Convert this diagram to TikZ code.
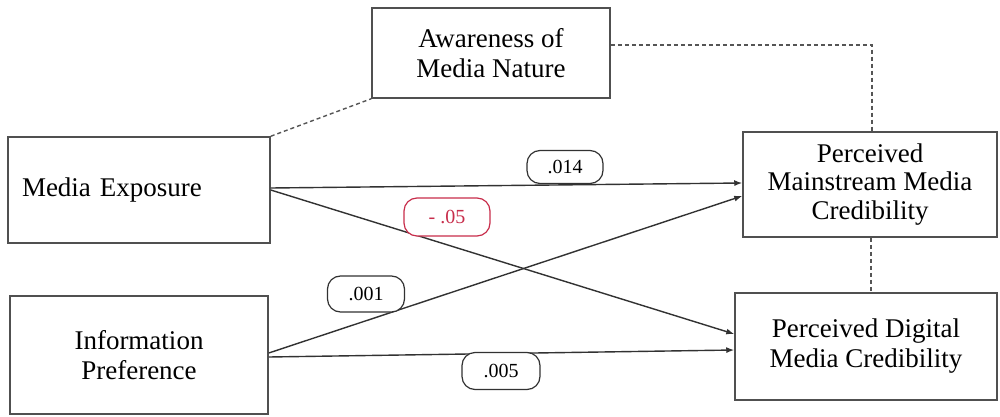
\documentclass[tikz,border=0pt]{standalone}
\usepackage{fontspec}
\setmainfont{Liberation Serif}
\usetikzlibrary{arrows.meta}
\definecolor{boxline}{RGB}{80,80,80}
\definecolor{arrline}{RGB}{50,50,50}
\definecolor{dashline}{RGB}{85,85,85}
\definecolor{redlab}{RGB}{200,45,75}
\tikzset{
  varbox/.style={draw=boxline, line width=1.5pt, rectangle, inner sep=0pt,
    font=\fontsize{27}{30}\selectfont, align=center},
  lab/.style={draw=arrline, line width=1.2pt, rounded corners=13pt, fill=white,
    inner sep=0pt, font=\fontsize{20}{22}\selectfont},
  pathar/.style={draw=arrline, line width=1.4pt, -{Latex[length=8pt,width=6pt]}},
  linkd/.style={draw=dashline, line width=1.4pt, dash pattern=on 4pt off 3pt}
}
\begin{document}
\begin{tikzpicture}[x=1pt,y=-1pt]
\useasboundingbox (0,0) rectangle (1000,417);
\fill[white] (0,0) rectangle (1000,417);

\node[varbox, minimum width=238pt, minimum height=90pt] (aw) at (491,53) {Awareness of\\Media Nature};
\node[varbox, text width=234pt, inner xsep=14pt, minimum height=106pt, align=left] (me) at (139,190) {\mbox{Media Exposure}};
\node[varbox, minimum width=258pt, minimum height=118pt] (ip) at (139,355) {Information\\Preference};
\node[varbox, minimum width=254pt, minimum height=105pt, font=\fontsize{27}{28.5}\selectfont] (mm) at (870,184.5) {Perceived\\Mainstream Media\\Credibility};
\node[varbox, minimum width=262pt, minimum height=107pt] (dm) at (866,346.5) {Perceived Digital\\Media Credibility};

% dashed links
\draw[linkd] (me.north east) -- (aw.south west);
\draw[linkd] ([yshift=8pt]aw.east) -| ([xshift=2pt]mm.north);
\draw[linkd] ([xshift=1pt]mm.south) -- ([xshift=1pt]mm.south |- dm.north);

% paths
\draw[pathar] ([yshift=2pt]me.east) -- ([yshift=1.5pt]mm.west);
\draw[pathar] (me.east) -- ([yshift=12.5pt]dm.west);
\draw[pathar] ([yshift=2pt]ip.east) -- ([yshift=-11.5pt]mm.west);
\draw[pathar] ([yshift=-2pt]ip.east) -- ([yshift=-3.5pt]dm.west);

% labels
\node[lab, minimum width=76pt, minimum height=33pt] (l1) at (565,167) {.014};
\node[lab, draw=redlab, text=redlab, minimum width=86pt, minimum height=38pt] (l2) at (447,217) {- .05};
\node[lab, minimum width=77pt, minimum height=36pt] (l3) at (366,294) {.001};
\node[lab, minimum width=78pt, minimum height=37pt] (l4) at (501,371) {.005};
\end{tikzpicture}
\end{document}
